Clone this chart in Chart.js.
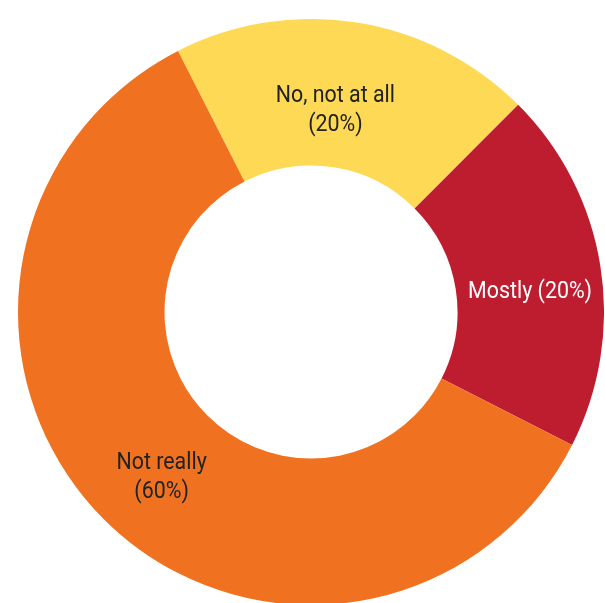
<!DOCTYPE html>
<html>
<head>
<meta charset="utf-8">
<script src="https://cdn.jsdelivr.net/npm/chart.js@4.4.1/dist/chart.umd.min.js"></script>
<style>
  html, body { margin: 0; padding: 0; background: #fff; overflow: hidden; }
  #wrap { position: absolute; left: 18px; top: 19px; width: 586px; height: 586px; }
</style>
</head>
<body>
<div id="wrap"><canvas id="donut"></canvas></div>
<script>
// data
const categories = ["No, not at all", "Mostly", "Not really"];
const shares = [20, 20, 60];
const sliceColors = ["#FDD955", "#BE1D30", "#F07220"];
const textColors = ["#222222", "#ffffff", "#222222"];

// label drawn inside each slice (squeezed a bit to look like a condensed face)
const sliceLabels = {
  id: 'sliceLabels',
  afterDatasetsDraw(chart, args, opts) {
    const ctx = chart.ctx;
    const arcs = chart.getDatasetMeta(0).data;
    ctx.save();
    ctx.font = opts.font;
    ctx.textAlign = 'center';
    ctx.textBaseline = 'middle';
    arcs.forEach((arc, i) => {
      const p = arc.getCenterPoint();
      const pct = '(' + shares[i] + '%)';
      const lines = opts.wrap[i] ? [categories[i], pct] : [categories[i] + ' ' + pct];
      const dx = opts.shift[i][0], dy = opts.shift[i][1];
      const top = p.y + dy - (lines.length - 1) * opts.lineHeight / 2;
      ctx.fillStyle = textColors[i];
      lines.forEach((t, k) => {
        ctx.save();
        ctx.translate(p.x + dx, top + k * opts.lineHeight);
        ctx.scale(opts.squeeze, 1);
        ctx.fillText(t, 0, 0);
        ctx.restore();
      });
    });
    ctx.restore();
  }
};

new Chart(document.getElementById("donut"), {
  type: 'doughnut',
  data: {
    labels: categories,
    datasets: [{
      data: shares,
      backgroundColor: sliceColors,
      borderWidth: 0
    }]
  },
  options: {
    responsive: true,
    maintainAspectRatio: false,
    animation: false,
    cutout: '50%',
    rotation: -27,
    layout: { padding: 0 },
    plugins: {
      legend: { display: false },
      tooltip: { enabled: false },
      sliceLabels: {
        font: '23px Roboto',
        squeeze: 0.93,
        lineHeight: 29,
        wrap: [true, false, true],
        shift: [[-10, 16], [2, 15], [6, 10]]
      }
    }
  },
  plugins: [sliceLabels]
});
</script>
</body>
</html>
